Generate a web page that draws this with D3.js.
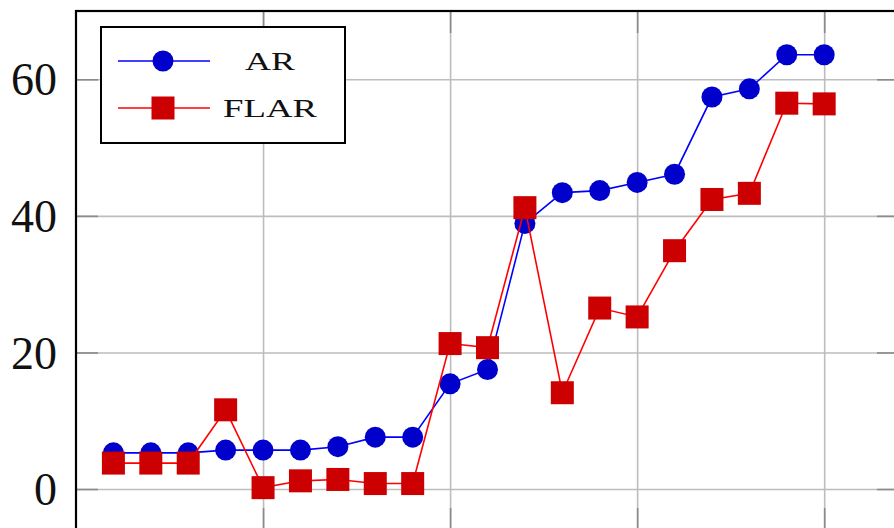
<!DOCTYPE html>
<html>
<head>
<meta charset="utf-8">
<script src="https://cdn.jsdelivr.net/npm/d3@7"></script>
<style>
  html, body { margin: 0; padding: 0; background: #fff; overflow: hidden; }
</style>
</head>
<body>
<div id="chart"></div>
<script>
// data
const xs = d3.range(1, 21);
const arValues = [5.3, 5.3, 5.3, 5.7, 5.7, 5.7, 6.2, 7.6, 7.6, 15.4,
  17.5, 38.9, 43.4, 43.7, 44.9, 46.1, 57.4, 58.6, 63.6, 63.6];
const flarValues = [3.8, 3.8, 3.8, 11.6, 0.2, 1.2, 1.4, 0.8, 0.8, 21.3,
  20.7, 41.2, 14.1, 26.5, 25.2, 34.9, 42.4, 43.3, 56.5, 56.4];
const xTicks = [5, 10, 15, 20];
const yTicks = [0, 20, 40, 60];
const seriesNames = ['AR', 'FLAR'];

const width = 894, height = 528;
const plotLeft = 76, plotRight = 899, plotTop = 11, plotBottom = 530;

const svg = d3.select('#chart')
  .append('svg')
  .attr('width', width)
  .attr('height', height)
  .attr('viewBox', `0 0 ${width} ${height}`);

const x = d3.scaleLinear().domain([0, 22]).range([plotLeft, plotRight]);
const y = d3.scaleLinear().domain([-6, 70]).range([plotBottom, plotTop]);

// grid
svg.append('g')
  .attr('transform', `translate(0,${plotTop})`)
  .call(d3.axisTop(x).tickValues(xTicks).tickSize(-(plotBottom - plotTop)).tickFormat(''))
  .call(g => g.select('.domain').remove())
  .call(g => g.selectAll('line').attr('stroke', '#bdbdbd').attr('stroke-width', 1.6));
svg.append('g')
  .attr('transform', `translate(${plotLeft},0)`)
  .call(d3.axisLeft(y).tickValues(yTicks).tickSize(-(plotRight - plotLeft)).tickFormat(''))
  .call(g => g.select('.domain').remove())
  .call(g => g.selectAll('line').attr('stroke', '#bdbdbd').attr('stroke-width', 1.6));

// inner tick marks
const tickLen = 22;
const tickColor = '#8a8a8a';
svg.append('g')
  .attr('transform', `translate(${plotLeft},0)`)
  .call(d3.axisRight(y).tickValues(yTicks).tickSize(tickLen).tickFormat(''))
  .call(g => g.select('.domain').remove())
  .call(g => g.selectAll('line').attr('stroke', tickColor).attr('stroke-width', 1.6));
svg.append('g')
  .attr('transform', `translate(${plotRight},0)`)
  .call(d3.axisLeft(y).tickValues(yTicks).tickSize(tickLen).tickFormat(''))
  .call(g => g.select('.domain').remove())
  .call(g => g.selectAll('line').attr('stroke', tickColor).attr('stroke-width', 1.6));
svg.append('g')
  .attr('transform', `translate(0,${plotBottom})`)
  .call(d3.axisTop(x).tickValues(xTicks).tickSize(tickLen).tickFormat(''))
  .call(g => g.select('.domain').remove())
  .call(g => g.selectAll('line').attr('stroke', tickColor).attr('stroke-width', 1.6));
svg.append('g')
  .attr('transform', `translate(0,${plotTop})`)
  .call(d3.axisBottom(x).tickValues(xTicks).tickSize(tickLen).tickFormat(''))
  .call(g => g.select('.domain').remove())
  .call(g => g.selectAll('line').attr('stroke', tickColor).attr('stroke-width', 1.6));

// y tick labels
svg.append('g')
  .attr('transform', `translate(${plotLeft},0)`)
  .call(d3.axisLeft(y).tickValues(yTicks).tickSize(0).tickPadding(19))
  .call(g => g.select('.domain').remove())
  .call(g => g.selectAll('text')
    .attr('font-family', '"Liberation Serif", "DejaVu Serif", serif')
    .attr('font-size', 46)
    .attr('fill', '#111')
    .attr('dy', '0.34em'));

// series
const series = [
  { name: seriesNames[0], values: arValues, line: '#0000ff', fill: '#0000cc', shape: 'circle' },
  { name: seriesNames[1], values: flarValues, line: '#ff0000', fill: '#cc0000', shape: 'square' }
];

const line = d3.line().x(d => x(d[0])).y(d => y(d[1]));
const circleR = 10.5, sq = 23;

series.forEach(s => {
  const pts = xs.map((xv, i) => [xv, s.values[i]]);
  svg.append('path')
    .attr('d', line(pts))
    .attr('fill', 'none')
    .attr('stroke', s.line)
    .attr('stroke-width', 1.6);
  if (s.shape === 'circle') {
    svg.append('g').selectAll('circle').data(pts).join('circle')
      .attr('cx', d => x(d[0]))
      .attr('cy', d => y(d[1]))
      .attr('r', circleR)
      .attr('fill', s.fill);
  } else {
    svg.append('g').selectAll('rect').data(pts).join('rect')
      .attr('x', d => x(d[0]) - sq / 2)
      .attr('y', d => y(d[1]) - sq / 2)
      .attr('width', sq)
      .attr('height', sq)
      .attr('fill', s.fill);
  }
});

// frame
svg.append('rect')
  .attr('x', plotLeft).attr('y', plotTop)
  .attr('width', plotRight - plotLeft).attr('height', plotBottom - plotTop)
  .attr('fill', 'none')
  .attr('stroke', '#000')
  .attr('stroke-width', 2.2);

// legend
const legend = svg.append('g');
legend.append('rect')
  .attr('x', 101).attr('y', 27)
  .attr('width', 244).attr('height', 116)
  .attr('fill', '#fff')
  .attr('stroke', '#000')
  .attr('stroke-width', 2);

const legendRows = [61, 108];
const legendText = [
  { cx: 270, len: 50 },
  { cx: 270, len: 94 }
];
series.forEach((s, i) => {
  const ly = legendRows[i];
  legend.append('line')
    .attr('x1', 118).attr('x2', 210)
    .attr('y1', ly).attr('y2', ly)
    .attr('stroke', s.line)
    .attr('stroke-width', 1.6);
  if (s.shape === 'circle') {
    legend.append('circle').attr('cx', 163).attr('cy', ly).attr('r', circleR).attr('fill', s.fill);
  } else {
    legend.append('rect')
      .attr('x', 163 - sq / 2).attr('y', ly - sq / 2)
      .attr('width', sq).attr('height', sq)
      .attr('fill', s.fill);
  }
  legend.append('text')
    .attr('x', legendText[i].cx - legendText[i].len / 2)
    .attr('y', ly + 8.5)
    .attr('textLength', legendText[i].len)
    .attr('lengthAdjust', 'spacingAndGlyphs')
    .attr('font-family', '"Liberation Serif", "DejaVu Serif", serif')
    .attr('font-size', 25)
    .attr('fill', '#111')
    .text(s.name);
});
</script>
</body>
</html>
